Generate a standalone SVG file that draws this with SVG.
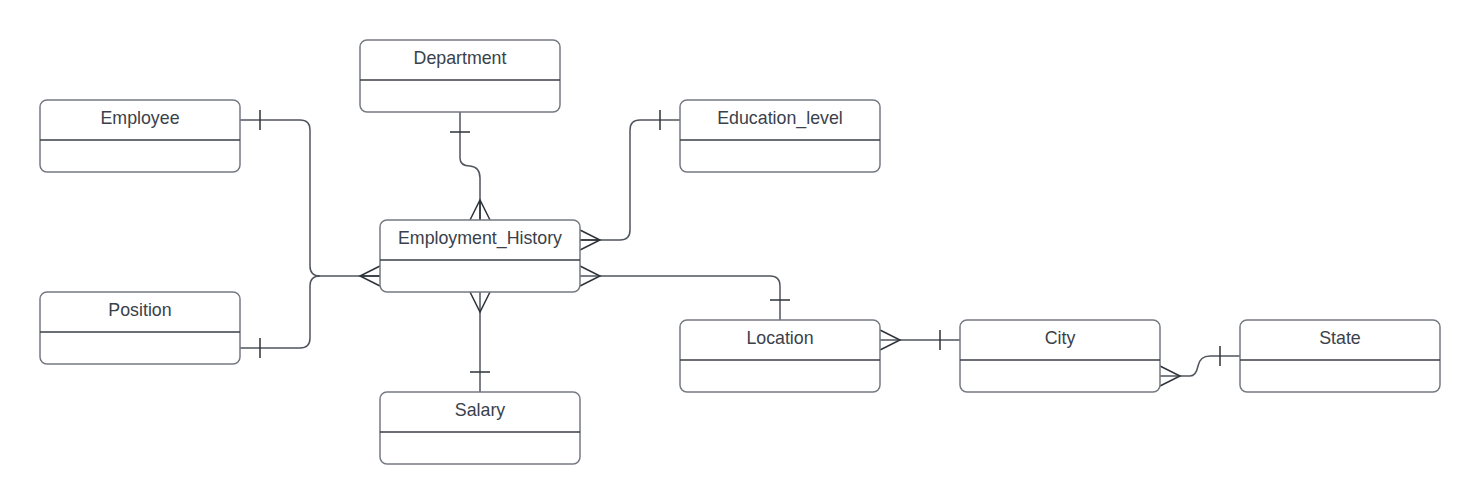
<svg xmlns="http://www.w3.org/2000/svg" width="1480" height="504" viewBox="0 0 1480 504">
<style>
.box{fill:#fff;stroke:#767a81;stroke-width:1.5}
.div{stroke:#3a3f47;stroke-width:1.5}
.t{font-family:"Liberation Sans",Arial,sans-serif;font-size:17.8px;fill:#3a414a;text-anchor:middle}
.c{fill:none;stroke:#50555d;stroke-width:1.5}
.m{fill:none;stroke:#2e333a;stroke-width:1.5}
</style>
<rect width="1480" height="504" fill="#fff"/>
<g id="connectors">
<!-- Employee -> EH -->
<path class="c" d="M240,120 H300 Q310,120 310,130 V266 Q310,276 320,276 H380"/>
<path class="m" d="M260,110 V130"/>
<!-- Position -> EH -->
<path class="c" d="M240,348 H300 Q310,348 310,338 V286 Q310,276 320,276"/>
<path class="m" d="M260,338 V358"/>
<path class="m" d="M380,266 L360,276 L380,286 M360,276 H380"/>
<!-- Department -> EH -->
<path class="c" d="M460,112 V158 Q460,166 470,166 Q480,167 480,178 V220"/>
<path class="m" d="M450,132 H470"/>
<path class="m" d="M470,220 L480,200 L490,220 M480,200 V220"/>
<!-- EH -> Salary -->
<path class="c" d="M480,292 V392"/>
<path class="m" d="M470,292 L480,312 L490,292"/>
<path class="m" d="M470,372 H490"/>
<!-- EH -> Education_level -->
<path class="c" d="M580,240 H620 Q630,240 630,230 V130 Q630,120 640,120 H680"/>
<path class="m" d="M580,230 L600,240 L580,250 M580,240 H600"/>
<path class="m" d="M660,110 V130"/>
<!-- EH -> Location -->
<path class="c" d="M580,276 H770 Q780,276 780,286 V320"/>
<path class="m" d="M580,266 L600,276 L580,286"/>
<path class="m" d="M770,300 H790"/>
<!-- Location -> City -->
<path class="c" d="M880,340 H960"/>
<path class="m" d="M880,330 L900,340 L880,350"/>
<path class="m" d="M940,330 V350"/>
<!-- City -> State -->
<path class="c" d="M1160,376 H1190 Q1196,376 1198,366 Q1200,356 1210,356 H1240"/>
<path class="m" d="M1160,366 L1180,376 L1160,386"/>
<path class="m" d="M1220,346 V366"/>
</g>
<g id="Department"><rect class="box" x="360" y="40" width="200" height="72" rx="7"/><line class="div" x1="360" y1="80" x2="560" y2="80"/><text class="t" x="460" y="64">Department</text></g>
<g id="Employee"><rect class="box" x="40" y="100" width="200" height="72" rx="7"/><line class="div" x1="40" y1="140" x2="240" y2="140"/><text class="t" x="140" y="124">Employee</text></g>
<g id="Education_level"><rect class="box" x="680" y="100" width="200" height="72" rx="7"/><line class="div" x1="680" y1="140" x2="880" y2="140"/><text class="t" x="780" y="124">Education_level</text></g>
<g id="Employment_History"><rect class="box" x="380" y="220" width="200" height="72" rx="7"/><line class="div" x1="380" y1="260" x2="580" y2="260"/><text class="t" x="480" y="244">Employment_History</text></g>
<g id="Position"><rect class="box" x="40" y="292" width="200" height="72" rx="7"/><line class="div" x1="40" y1="332" x2="240" y2="332"/><text class="t" x="140" y="316">Position</text></g>
<g id="Salary"><rect class="box" x="380" y="392" width="200" height="72" rx="7"/><line class="div" x1="380" y1="432" x2="580" y2="432"/><text class="t" x="480" y="416">Salary</text></g>
<g id="Location"><rect class="box" x="680" y="320" width="200" height="72" rx="7"/><line class="div" x1="680" y1="360" x2="880" y2="360"/><text class="t" x="780" y="344">Location</text></g>
<g id="City"><rect class="box" x="960" y="320" width="200" height="72" rx="7"/><line class="div" x1="960" y1="360" x2="1160" y2="360"/><text class="t" x="1060" y="344">City</text></g>
<g id="State"><rect class="box" x="1240" y="320" width="200" height="72" rx="7"/><line class="div" x1="1240" y1="360" x2="1440" y2="360"/><text class="t" x="1340" y="344">State</text></g>
</svg>
